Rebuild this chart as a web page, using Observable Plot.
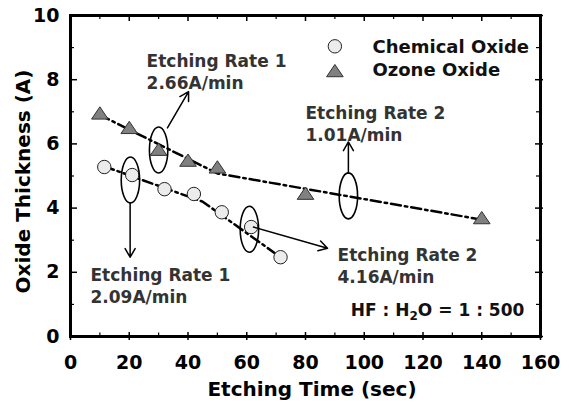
<!DOCTYPE html>
<html><head><meta charset="utf-8">
<script src="https://cdn.jsdelivr.net/npm/d3@7"></script>
<script src="https://cdn.jsdelivr.net/npm/@observablehq/plot@0.6"></script>
<style>body{margin:0;background:#fff;}</style>
</head><body><div id="chart"></div>
<script>
// ---- data ----
const xMajor = [0, 20, 40, 60, 80, 100, 120, 140, 160];
const xMinor = [10, 30, 50, 70, 90, 110, 130, 150];
const yMajor = [0, 2, 4, 6, 8, 10];
const yMinor = [1, 3, 5, 7, 9];

const seriesNames = ["Chemical Oxide", "Ozone Oxide"];
const chemTime  = [11.5, 21, 32, 42, 51.5, 61.5, 71.5];
const chemThick = [5.28, 5.03, 4.59, 4.44, 3.87, 3.41, 2.47];
const ozoneTime  = [10, 20, 30, 40, 50, 80, 140];
const ozoneThick = [6.9, 6.45, 5.77, 5.43, 5.22, 4.4, 3.64];

const chemFitTime  = [11.5, 45, 71.5];
const chemFitThick = [5.3, 4.2, 2.47];
const ozoneFitTime  = [10, 50, 140];
const ozoneFitThick = [6.9, 5.08, 3.64];

const rateText = ["Etching Rate 1\n2.66A/min", "Etching Rate 2\n1.01A/min", "Etching Rate 1\n2.09A/min", "Etching Rate 2\n4.16A/min"];
const rateTextTime  = [25.9, 80, 6.8, 90.9];
const rateTextThick = [8.875, 7.28, 2.22, 2.84];

const ellipseTime  = [30, 20.4, 60.9, 94.6];
const ellipseThick = [5.81, 4.875, 3.34, 4.38];

const arrowX1 = [33.0, 20.3, 62.3, 94.6];
const arrowY1 = [6.5, 4.16, 3.41, 5.09];
const arrowX2 = [40.2, 20.3, 87.5, 94.6];
const arrowY2 = [7.63, 2.47, 2.75, 6.06];

const legendTime = [90, 90];
const legendThick = [9.04, 8.22];
const legendTextTime = [102.8, 102.8];
const legendTextThick = [9.23, 8.5];

const ratioText = ["HF : H2O = 1 : 500"];

// ---- symbols ----
const triangleSym = {draw(ctx, size) {
  const r = Math.sqrt(size / Math.PI), h = r * 1.48;
  ctx.moveTo(0, -2 * h / 3); ctx.lineTo(r, h / 3); ctx.lineTo(-r, h / 3); ctx.closePath();
}};
const ellipseSym = {draw(ctx, size) {
  const ry = Math.sqrt(size / Math.PI), rx = ry * 0.4, k = 0.5523;
  ctx.moveTo(rx, 0);
  ctx.bezierCurveTo(rx, k * ry, k * rx, ry, 0, ry);
  ctx.bezierCurveTo(-k * rx, ry, -rx, k * ry, -rx, 0);
  ctx.bezierCurveTo(-rx, -k * ry, -k * rx, -ry, 0, -ry);
  ctx.bezierCurveTo(k * rx, -ry, rx, -k * ry, rx, 0);
  ctx.closePath();
}};

const W = 569, H = 404, mL = 70, mR = 29, mT = 15, mB = 68;
const iw = W - mL - mR, ih = H - mT - mB;
const idx = a => a.map((_, i) => i);

const chart = Plot.plot({
  width: W, height: H,
  marginLeft: mL, marginRight: mR, marginTop: mT, marginBottom: mB,
  x: {domain: [0, 160], axis: null},
  y: {domain: [0, 10], axis: null},
  style: {fontFamily: "'DejaVu Sans', sans-serif", fontWeight: "bold", background: "white", color: "black"},
  marks: [
    Plot.axisX(xMajor, {tickSize: 0, tickPadding: 18.5, fontSize: 19, fontWeight: "bold", fill: "black", label: null}),
    Plot.axisY(yMajor, {tickSize: 0, tickPadding: 11, fontSize: 19, fontWeight: "bold", fill: "black", label: null}),
    // ticks
    Plot.tickX(xMajor, {x: d => d, insetBottom: ih - 6, strokeWidth: 1.5}),
    Plot.tickX(xMinor, {x: d => d, insetBottom: ih - 4, strokeWidth: 1.2}),
    Plot.tickX(xMajor, {x: d => d, insetTop: ih - 4, insetBottom: -4, strokeWidth: 1.5}),
    Plot.tickX(xMinor, {x: d => d, insetTop: ih - 3.5, strokeWidth: 1.2}),
    Plot.tickY(yMajor, {y: d => d, insetRight: iw - 7, strokeWidth: 1.5}),
    Plot.tickY(yMinor, {y: d => d, insetRight: iw - 4, strokeWidth: 1.2}),
    Plot.tickY(yMajor, {y: d => d, insetLeft: iw - 5, insetRight: -3, strokeWidth: 1.5}),
    Plot.tickY(yMinor, {y: d => d, insetLeft: iw - 4, strokeWidth: 1.2}),
    Plot.frame({stroke: "black", strokeWidth: 3}),
    // fit lines
    Plot.line(idx(chemFitTime), {x: i => chemFitTime[i], y: i => chemFitThick[i], stroke: "black", strokeWidth: 2.5, strokeDasharray: "10,4,2.5,4"}),
    Plot.line(idx(ozoneFitTime), {x: i => ozoneFitTime[i], y: i => ozoneFitThick[i], stroke: "black", strokeWidth: 2.5, strokeDasharray: "10,4,2.5,4"}),
    // data
    Plot.dot(idx(chemTime), {x: i => chemTime[i], y: i => chemThick[i], r: 6.7, fill: "#ececec", stroke: "#222", strokeWidth: 1}),
    Plot.dot(idx(ozoneTime), {x: i => ozoneTime[i], y: i => ozoneThick[i], r: 8.3, symbol: triangleSym, fill: "#808080", stroke: "#333", strokeWidth: 1}),
    // ellipses
    Plot.dot(idx(ellipseTime), {x: i => ellipseTime[i], y: i => ellipseThick[i], r: 23, symbol: ellipseSym, fill: "none", stroke: "black", strokeWidth: 1.6}),
    // arrows
    Plot.arrow(idx(arrowX1), {x1: i => arrowX1[i], y1: i => arrowY1[i], x2: i => arrowX2[i], y2: i => arrowY2[i], stroke: "black", strokeWidth: 1.5, headLength: 10}),
    // annotation text
    Plot.text(rateText, {x: (d, i) => rateTextTime[i], y: (d, i) => rateTextThick[i], text: d => d, textAnchor: "start", lineAnchor: "top", lineHeight: 1.3, fontSize: 17, fontWeight: "bold", fill: "#333"}),
    Plot.text(ratioText, {x: () => 154.5, y: () => 1.03, text: d => d, textAnchor: "end", lineAnchor: "top", fontSize: 17, fontWeight: "bold", fill: "#111", className: "ratio-label"}),
    // legend
    Plot.dot([0], {x: () => legendTime[0], y: () => legendThick[0], r: 6.7, fill: "#ececec", stroke: "#222", strokeWidth: 1}),
    Plot.dot([1], {x: () => legendTime[1], y: () => legendThick[1], r: 8.3, symbol: triangleSym, fill: "#808080", stroke: "#333", strokeWidth: 1}),
    Plot.text(seriesNames, {x: (d, i) => legendTextTime[i], y: (d, i) => legendTextThick[i], text: d => d, textAnchor: "start", lineAnchor: "top", fontSize: 18, fontWeight: "bold", fill: "#111"}),
    // axis titles
    Plot.text(["Oxide Thickness (A)"], {frameAnchor: "left", text: d => d, rotate: -90, dx: -47.4, dy: 5.5, lineAnchor: "middle", textAnchor: "middle", fontSize: 20, fontWeight: "bold", fill: "black"}),
    Plot.text(["Etching Time (sec)"], {frameAnchor: "bottom", text: d => d, dx: 6.5, dy: 44.8, lineAnchor: "top", textAnchor: "middle", fontSize: 20, fontWeight: "bold", fill: "black"})
  ]
});

// subscript the "2" in H2O
d3.select(chart).selectAll("text").each(function() {
  const t = this.textContent;
  if (t === ratioText[0]) {
    const sel = d3.select(this);
    const dyAttr = this.getAttribute("dy");
    sel.text(null);
    const parts = t.split("H2O");
    sel.append("tspan").text(parts[0] + "H");
    sel.append("tspan").attr("font-size", 12).attr("dy", 5).text("2");
    sel.append("tspan").attr("dy", -5).text("O" + parts[1]);
  }
});
document.getElementById("chart").appendChild(chart);
</script>
</body></html>
